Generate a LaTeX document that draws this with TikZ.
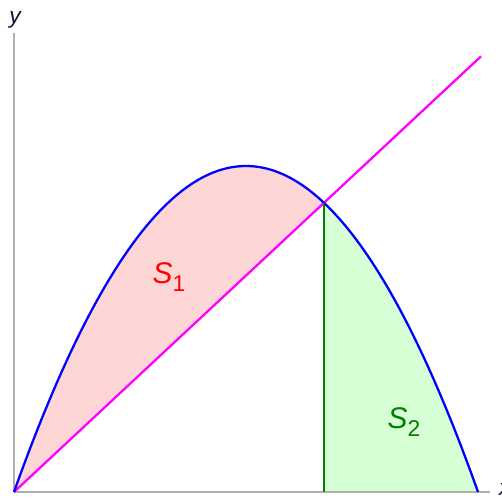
\documentclass[tikz,border=0pt]{standalone}
\usepackage{fontspec}
\setmainfont{Liberation Sans}
\usepackage{tikz}
\definecolor{areaPink}{RGB}{255,214,214}
\definecolor{areaGreen}{RGB}{214,255,214}
\definecolor{darkGreen}{RGB}{0,128,0}
\definecolor{lineMagenta}{RGB}{255,0,255}
\definecolor{axisGray}{RGB}{175,175,175}
\definecolor{labelNavy}{RGB}{20,20,60}

\begin{document}
\begin{tikzpicture}[
    x=0.02cm, y=0.02cm,
    axis/.style={draw=axisGray, line width=0.8pt},
    curve/.style={line width=1.3pt},
    area/.style={font=\fontsize{17}{19}\selectfont}
]
    \useasboundingbox (-14,-6) rectangle (488,492);
    % Regions
    \fill[areaPink] plot[domain=0:310, samples=80] (\x, {326*(1-((\x-232)/232)^2)}) -- cycle;
    \fill[areaGreen] plot[domain=310:464, samples=60] (\x, {326*(1-((\x-232)/232)^2)}) -- (310,0) -- cycle;

    % Axes
    \coordinate (O) at (0,0);
    \coordinate (xend) at (476,0);
    \coordinate (yend) at (0,459);
    \draw[axis] (O) -- (xend);
    \draw[axis] (O) -- (yend);
    \node[labelNavy, font=\fontsize{13}{15}\selectfont\itshape] (ylab) at (1,472) {y};
    \node[labelNavy, font=\fontsize{13}{15}\selectfont\itshape, anchor=west] (xlab) at (479,3) {x};

    % Curves
    \coordinate (P) at (310,289.3);
    \coordinate (foot) at (310,0);
    \coordinate (lend) at (467,435.7);
    \draw[curve, lineMagenta] (O) -- (lend);
    \draw[curve, blue] plot[domain=0:464, samples=120] (\x, {326*(1-((\x-232)/232)^2)});
    \draw[curve, darkGreen] (P) -- (foot);

    % Labels
    \node[area, red] (s1) at (155,215) {\textit{S}\raisebox{-0.28em}{\fontsize{13}{15}\selectfont 1}};
    \node[area, darkGreen] (s2) at (390,70) {\textit{S}\raisebox{-0.28em}{\fontsize{13}{15}\selectfont 2}};
\end{tikzpicture}
\end{document}
